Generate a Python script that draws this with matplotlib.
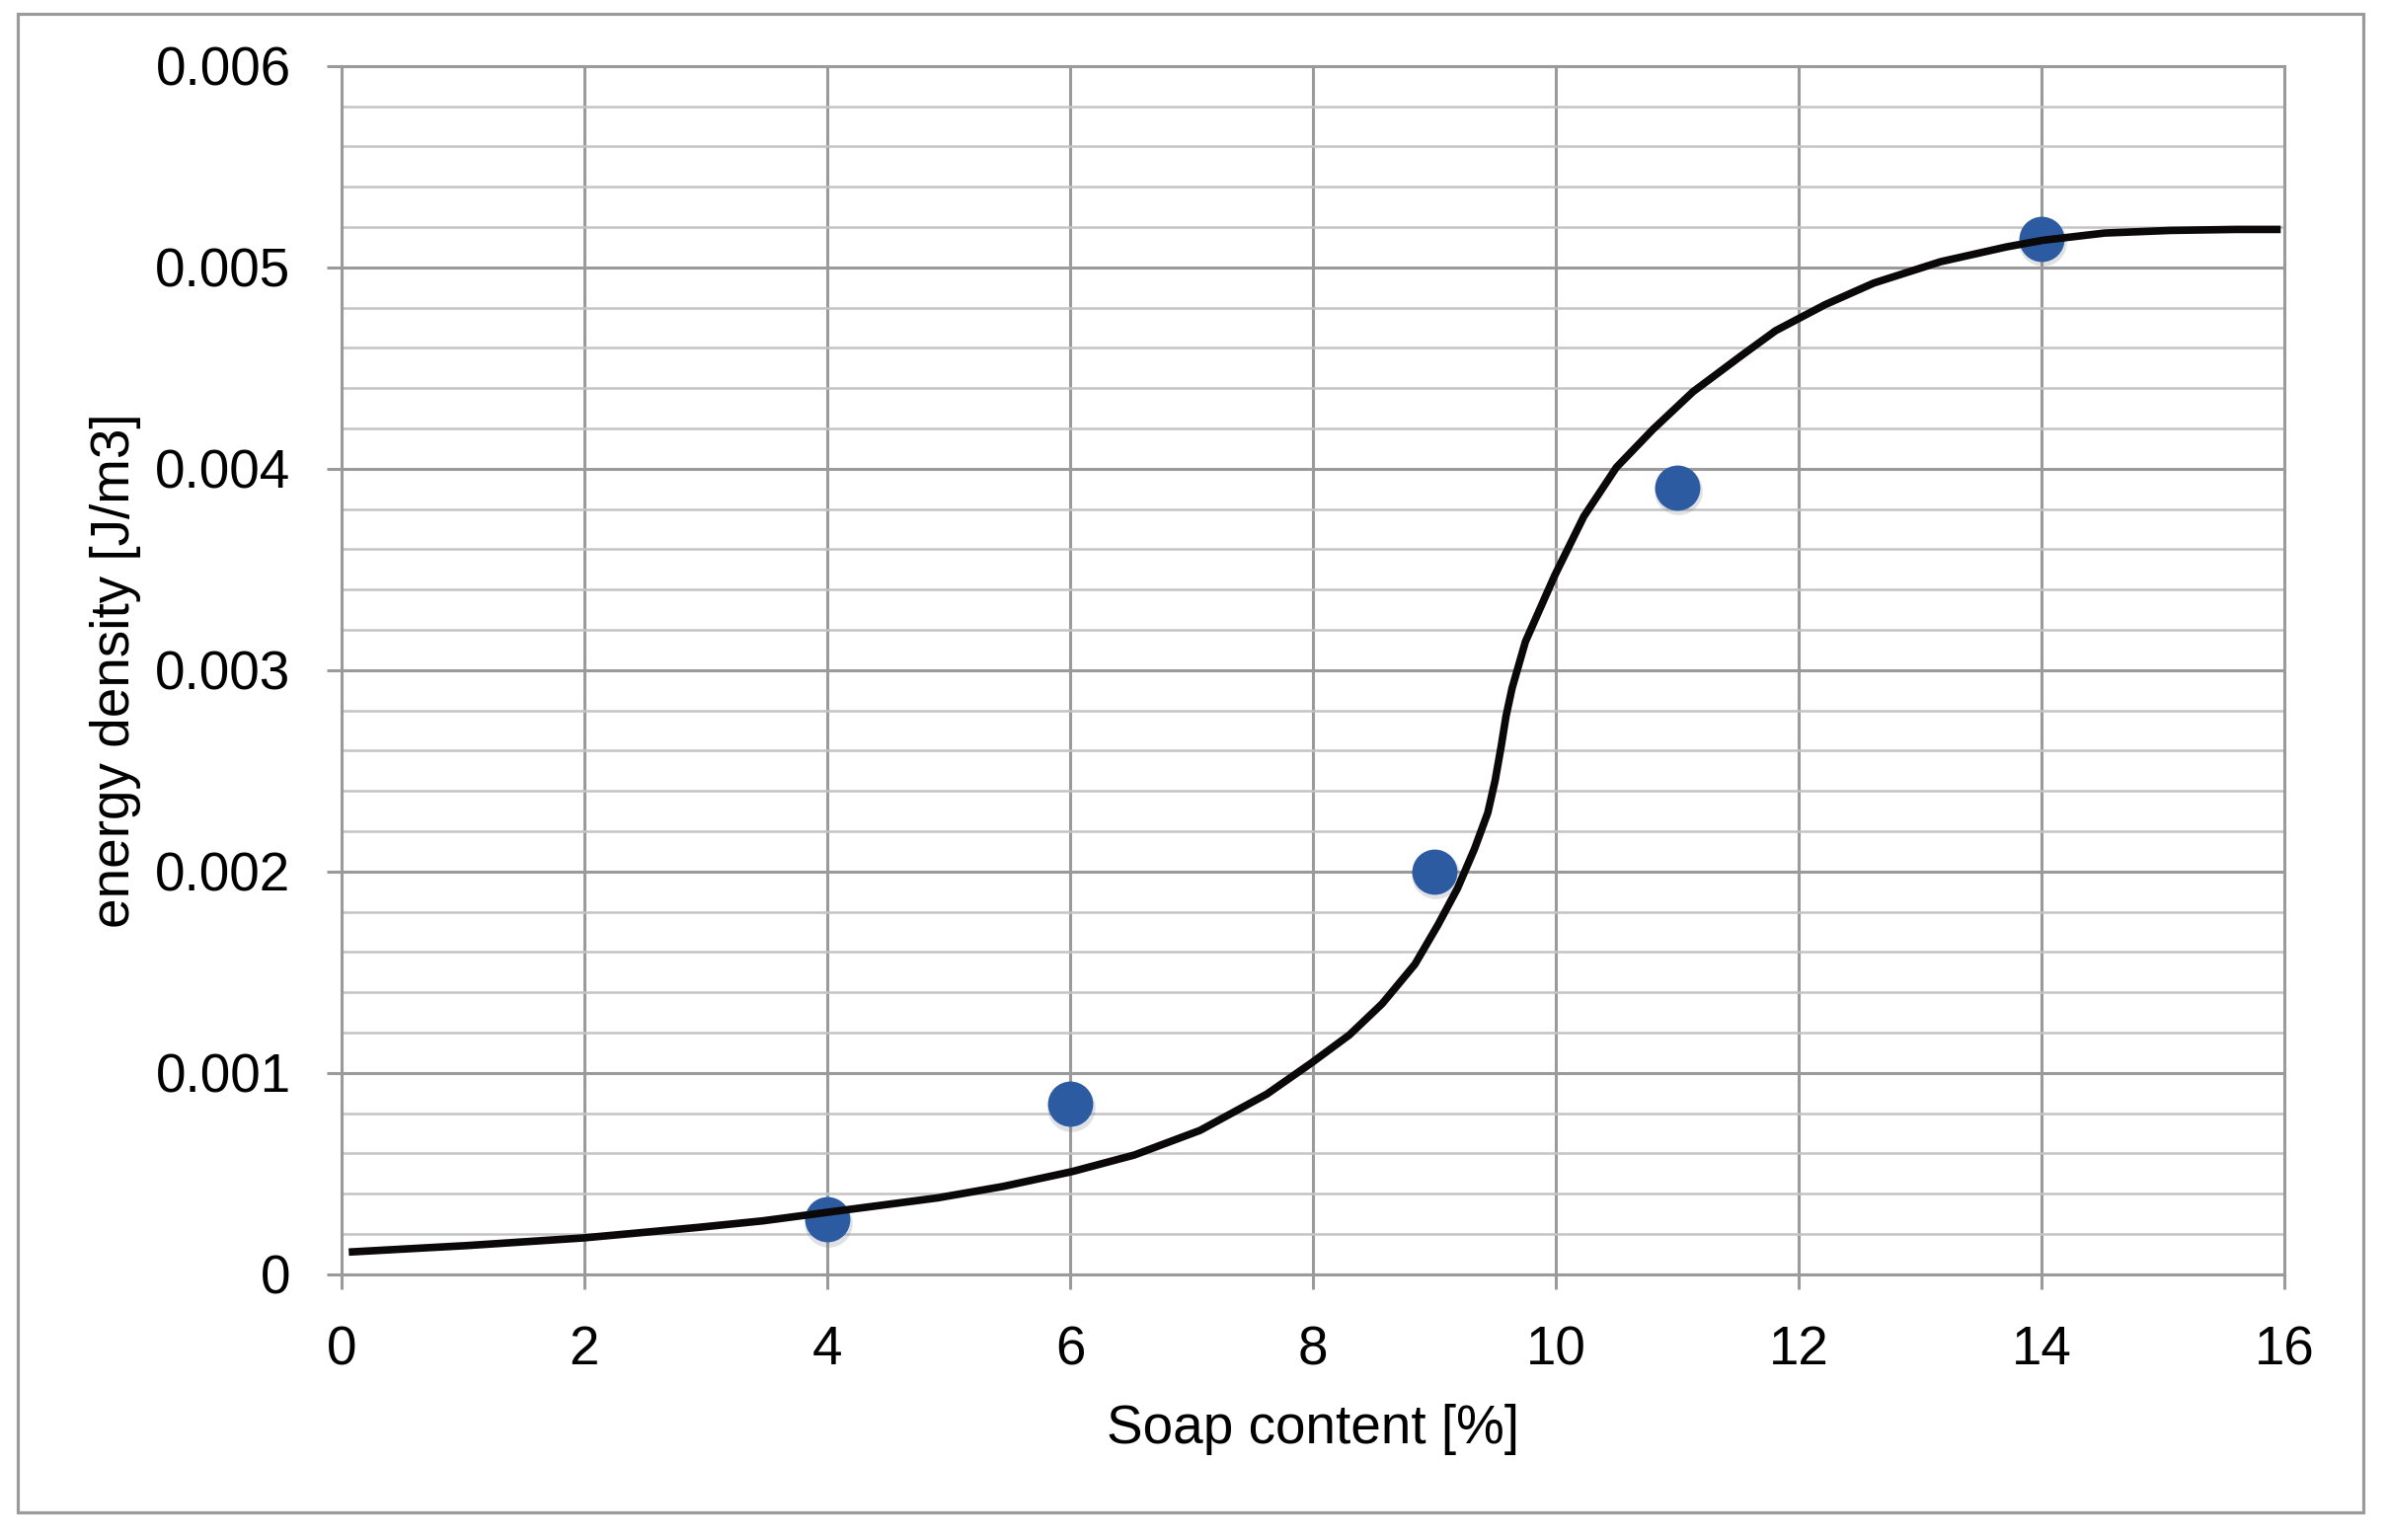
import matplotlib
matplotlib.use('Agg')
import matplotlib.pyplot as plt
import matplotlib.transforms as mtransforms
from matplotlib.patches import Rectangle
from matplotlib.ticker import MultipleLocator, FuncFormatter

# 测量点 (soap content %, energy density J/m3)
soap_pts   = [4, 6, 9, 11, 14]
energy_pts = [0.000273, 0.000845, 0.0020, 0.003906, 0.005142]

# 拟合曲线
curve_x = [0.06, 1.03, 1.99, 2.93, 3.47, 4.01, 4.91, 5.45, 6.02, 6.53, 7.07,
           7.62, 7.99, 8.30, 8.57, 8.84, 9.03, 9.19, 9.33, 9.44, 9.50, 9.55,
           9.59, 9.64, 9.75, 9.99, 10.23, 10.50, 10.80, 11.13, 11.53, 11.81,
           12.22, 12.62, 13.17, 13.71, 14.01, 14.52, 15.06, 15.60, 15.97]
curve_y = [0.000110, 0.000142, 0.000180, 0.000232, 0.000265, 0.000308,
           0.000379, 0.000436, 0.000510, 0.000592, 0.000714, 0.000894,
           0.001050, 0.001188, 0.001343, 0.001539, 0.001735, 0.001915,
           0.002111, 0.002291, 0.002450, 0.002620, 0.002770, 0.002910,
           0.003141, 0.003468, 0.003762, 0.004007, 0.004195, 0.004382,
           0.004562, 0.004685, 0.004815, 0.004922, 0.005028, 0.005101,
           0.005134, 0.005170, 0.005183, 0.005188, 0.005188]

x_ticks = [0, 2, 4, 6, 8, 10, 12, 14, 16]
y_ticks = [0, 0.001, 0.002, 0.003, 0.004, 0.005, 0.006]


def main():
    plt.rcParams['font.family'] = ['Liberation Sans', 'DejaVu Sans']
    major_c = '#9a9a9a'
    minor_c = '#c4c4c4'
    fs = 39.5

    fig = plt.figure(figsize=(24.19, 15.60), dpi=100)
    ax = fig.add_axes([0.1430, 0.1726, 0.9566 - 0.1430, 0.9572 - 0.1726])

    # 外框
    fig.patches.append(Rectangle((18 / 2419, 1 - 1532 / 1560),
                                 (2394 - 18) / 2419, (1532 - 14) / 1560,
                                 transform=fig.transFigure, fill=False,
                                 edgecolor=major_c, linewidth=2.3))

    # 数据点 + 阴影
    shadow = mtransforms.offset_copy(ax.transData, fig=fig, x=0.5, y=-2.5, units='points')
    ax.plot(soap_pts, energy_pts, 'o', color='#6f7a8a', alpha=0.22,
            markersize=35, markeredgewidth=0, transform=shadow, zorder=3)
    ax.plot(soap_pts, energy_pts, 'o', color='#2d5ba1', markersize=33,
            markeredgewidth=0, zorder=4)

    # 曲线
    ax.plot(curve_x, curve_y, '-', color='#0a0808', linewidth=5.5,
            solid_capstyle='butt', solid_joinstyle='round', zorder=5)

    ax.set_xlim(0, 16)
    ax.set_ylim(0, 0.006)
    ax.set_xticks(x_ticks)
    ax.set_yticks(y_ticks)
    ax.yaxis.set_minor_locator(MultipleLocator(0.0002))
    ax.yaxis.set_major_formatter(FuncFormatter(lambda v, p: f'{v:g}'))

    ax.set_axisbelow(True)
    ax.grid(True, which='major', color=major_c, linewidth=2.2)
    ax.grid(True, which='minor', axis='y', color=minor_c, linewidth=1.8)

    for s in ax.spines.values():
        s.set_color(major_c)
        s.set_linewidth(2.2)

    ax.tick_params(which='major', direction='out', length=11, width=2.2,
                   color=major_c, labelsize=fs, pad=26)
    ax.tick_params(which='minor', length=0)

    ax.set_xlabel('Soap content [%]', fontsize=fs, labelpad=20)
    ax.set_ylabel('energy density [J/m3]', fontsize=fs, labelpad=10)

    fig.savefig('out.png', dpi=100)
    plt.close(fig)


if __name__ == '__main__':
    main()
